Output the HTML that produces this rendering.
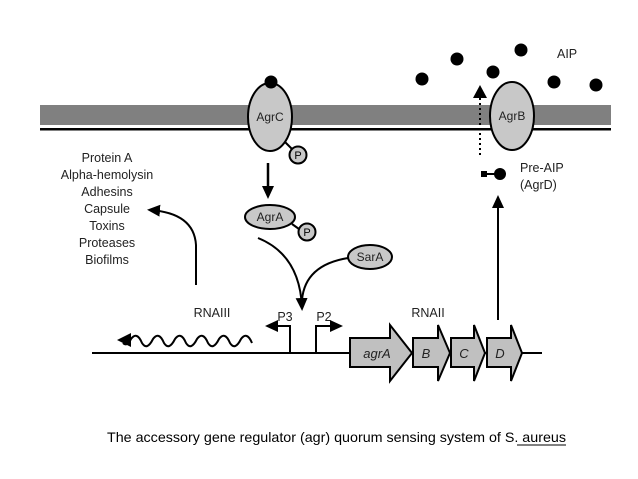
<!DOCTYPE html>
<html><head><style>body{margin:0;background:#fff}svg{display:block}</style></head><body>
<svg width="638" height="479" viewBox="0 0 638 479" xmlns="http://www.w3.org/2000/svg" font-family="Liberation Sans, sans-serif">
<defs>
<marker id="ah" markerWidth="13" markerHeight="12" refX="10" refY="6" orient="auto" markerUnits="userSpaceOnUse"><path d="M0,0 L13,6 L0,12 z" fill="#000"/></marker>
</defs>
<rect x="40" y="105" width="571" height="20" fill="#808080"/>
<rect x="40" y="128" width="571" height="2.5" fill="#000"/>
<ellipse cx="270" cy="117" rx="22" ry="34" fill="#c8c8c8" stroke="#000" stroke-width="2"/>
<circle cx="271" cy="82" r="6.5" fill="#000"/>
<text x="270" y="121" font-size="12" text-anchor="middle" fill="#222">AgrC</text>
<line x1="285" y1="142" x2="293" y2="150" stroke="#000" stroke-width="2"/>
<circle cx="298" cy="155" r="8.5" fill="#c8c8c8" stroke="#000" stroke-width="2"/>
<text x="298" y="159" font-size="11" text-anchor="middle">P</text>
<line x1="268" y1="163" x2="268" y2="196" stroke="#000" stroke-width="2.5" marker-end="url(#ah)"/>
<ellipse cx="270" cy="217" rx="25" ry="12" fill="#c8c8c8" stroke="#000" stroke-width="2"/>
<text x="270" y="221" font-size="12" text-anchor="middle" fill="#222">AgrA</text>
<line x1="292" y1="224" x2="299" y2="229" stroke="#000" stroke-width="2"/>
<circle cx="307" cy="232" r="8.5" fill="#c8c8c8" stroke="#000" stroke-width="2"/>
<text x="307" y="236" font-size="11" text-anchor="middle">P</text>
<ellipse cx="370" cy="257" rx="22" ry="12" fill="#c8c8c8" stroke="#000" stroke-width="2"/>
<text x="370" y="261" font-size="12" text-anchor="middle" fill="#222">SarA</text>
<path d="M258 238 Q300 255 302 308" fill="none" stroke="#000" stroke-width="2" marker-end="url(#ah)"/>
<path d="M348 258 Q305 265 302 300" fill="none" stroke="#000" stroke-width="2"/>
<g font-size="12.5" text-anchor="middle" fill="#222">
<text x="107" y="162">Protein A</text>
<text x="107" y="179">Alpha-hemolysin</text>
<text x="107" y="196">Adhesins</text>
<text x="107" y="213">Capsule</text>
<text x="107" y="230">Toxins</text>
<text x="107" y="247">Proteases</text>
<text x="107" y="264">Biofilms</text>
</g>
<path d="M196 285 L196 245 Q194 213 150 210" fill="none" stroke="#000" stroke-width="2" marker-end="url(#ah)"/>
<line x1="92" y1="353" x2="542" y2="353" stroke="#000" stroke-width="2"/>
<text x="212" y="317" font-size="12.5" text-anchor="middle" fill="#222">RNAIII</text>
<text x="428" y="317" font-size="12.5" text-anchor="middle" fill="#222">RNAII</text>
<path d="M252 343 q-5 -12 -11 -4 q-6 12 -11 4 q-5 -12 -11 -4 q-6 12 -11 4 q-5 -12 -11 -4 q-6 12 -11 4 q-5 -12 -11 -4 q-6 12 -11 4 q-5 -12 -11 -4 q-6 12 -11 4 q-5 -12 -11 -4 q-4 8 -8 4" fill="none" stroke="#000" stroke-width="2"/>
<path d="M117 340 L131 333 L131 347 Z" fill="#000"/>
<path d="M290 353 V326 H268" fill="none" stroke="#000" stroke-width="2" marker-end="url(#ah)"/>
<path d="M316 353 V326 H340" fill="none" stroke="#000" stroke-width="2" marker-end="url(#ah)"/>
<text x="285" y="321" font-size="12.5" text-anchor="middle" fill="#222">P3</text>
<text x="324" y="321" font-size="12.5" text-anchor="middle" fill="#222">P2</text>
<g fill="#c0c0c0" stroke="#000" stroke-width="2">
<path d="M350 338 H390 V325 L412 353 L390 381 V367 H350 Z"/>
<path d="M413 338 H438 V325 L450 353 L438 381 V367 H413 Z"/>
<path d="M451 338 H474 V325 L485 353 L474 381 V367 H451 Z"/>
<path d="M487 338 H511 V325 L522 353 L511 381 V367 H487 Z"/>
</g>
<g font-size="13" font-style="italic" text-anchor="middle" fill="#222">
<text x="377" y="358">agrA</text><text x="426" y="358">B</text><text x="464" y="358">C</text><text x="500" y="358">D</text>
</g>
<line x1="498" y1="320" x2="498" y2="198" stroke="#000" stroke-width="2" marker-end="url(#ah)"/>
<ellipse cx="512" cy="116" rx="22" ry="34" fill="#c8c8c8" stroke="#000" stroke-width="2"/>
<text x="512" y="120" font-size="12" text-anchor="middle" fill="#222">AgrB</text>
<line x1="480" y1="155" x2="480" y2="96" stroke="#000" stroke-width="2" stroke-dasharray="2,3"/>
<path d="M473 98 L480 85 L487 98 Z" fill="#000"/>
<rect x="481" y="171" width="6" height="6" fill="#000"/>
<line x1="484" y1="174" x2="496" y2="174" stroke="#000" stroke-width="2"/>
<circle cx="500" cy="174" r="6" fill="#000"/>
<text x="520" y="172" font-size="12.5" fill="#222">Pre-AIP</text>
<text x="520" y="189" font-size="12.5" fill="#222">(AgrD)</text>
<g fill="#000">
<circle cx="422" cy="79" r="6.5"/><circle cx="457" cy="59" r="6.5"/><circle cx="493" cy="72" r="6.5"/>
<circle cx="521" cy="50" r="6.5"/><circle cx="554" cy="82" r="6.5"/><circle cx="596" cy="85" r="6.5"/>
</g>
<text x="557" y="58" font-size="12.5" fill="#222">AIP</text>
<text x="107" y="442" font-size="14" fill="#000" textLength="459" lengthAdjust="spacingAndGlyphs">The accessory gene regulator (agr) quorum sensing system of S. aureus</text>
<line x1="517" y1="445" x2="566" y2="445" stroke="#000" stroke-width="1"/>
</svg>
</body></html>
